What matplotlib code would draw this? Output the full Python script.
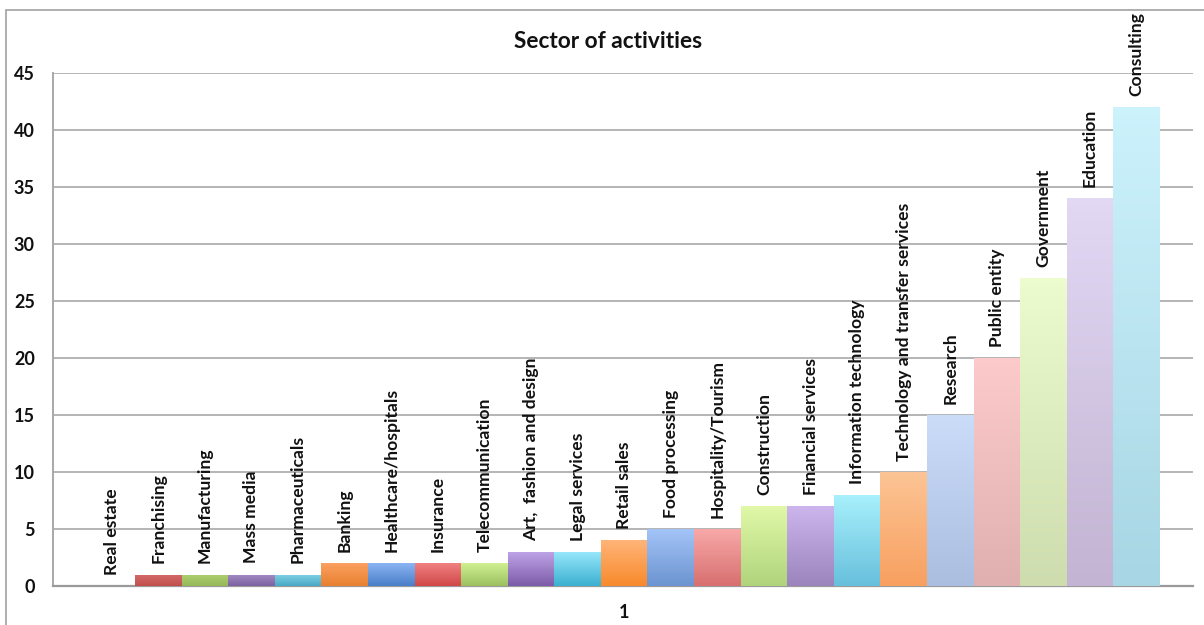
import numpy as np
import matplotlib
matplotlib.use("Agg")
import matplotlib.pyplot as plt
from matplotlib.colors import LinearSegmentedColormap
from matplotlib.patches import Rectangle

plt.rcParams['font.family'] = ['Lato', 'DejaVu Sans']

sectors = ["Real estate", "Franchising", "Manufacturing", "Mass media",
           "Pharmaceuticals", "Banking", "Healthcare/hospitals", "Insurance",
           "Telecommunication", "Art,  fashion and design", "Legal services",
           "Retail sales", "Food processing", "Hospitality/Tourism",
           "Construction", "Financial services", "Information technology",
           "Technology and transfer services", "Research", "Public entity",
           "Government", "Education", "Consulting"]
counts = [0, 1, 1, 1, 1, 2, 2, 2, 2, 3, 3, 4, 5, 5, 7, 7, 8, 10, 15, 20, 27, 34, 42]
group_label = "1"
y_ticks = [0, 5, 10, 15, 20, 25, 30, 35, 40, 45]

# gradient colours (top, bottom) per bar, Excel-style
top_colors = ["#8ab4f4", "#d46a6a", "#b0d070", "#a48cc4", "#80d0e4", "#fba060",
              "#8ab4f4", "#f08080", "#d0f090", "#c0a4e8", "#98e8fc", "#ffb478",
              "#a4c4f8", "#f8a8a8", "#e0f8a8", "#ccb4ec", "#a8f0fc", "#fcc494",
              "#cadcf8", "#fccaca", "#ecfcce", "#e2d8f4", "#ccf2fc"]
bottom_colors = ["#4a7ec8", "#c0504d", "#94b858", "#7c62a0", "#4aaac6", "#e88030",
                 "#4a7ec8", "#d04848", "#9cc060", "#7c5ca8", "#3cb0d0", "#f88a2c",
                 "#6c94d0", "#d87070", "#b0d47c", "#9c84bc", "#68c0dc", "#f8a060",
                 "#acbee0", "#e0b0b0", "#cedcae", "#c2b4d2", "#a8d6e4"]

W, H = 1204, 625
fig = plt.figure(figsize=(W / 100, H / 100), dpi=100)
ax = fig.add_axes([53 / W, 1 - 586 / H, (1193 - 53) / W, (586 - 73) / H])

x = np.arange(len(sectors))
bars = ax.bar(x, counts, width=1.0, color=bottom_colors, linewidth=0, zorder=2)

grad = np.linspace(0, 1, 64).reshape(-1, 1)
for i, (b, h) in enumerate(zip(bars, counts)):
    if h > 0:
        cmap = LinearSegmentedColormap.from_list("g", [top_colors[i], bottom_colors[i]])
        im = ax.imshow(grad, cmap=cmap, aspect="auto", zorder=3,
                       extent=(b.get_x(), b.get_x() + b.get_width(), 0, h),
                       origin="upper")
        im.set_clip_path(b)
    ax.annotate(sectors[i], (b.get_x() + b.get_width() / 2, h),
                xytext=(0, 8), textcoords="offset points", rotation=90,
                ha="center", va="bottom", fontsize=12.6, fontweight="bold",
                color="#111111", zorder=4)

ax.set_xlim(-0.5 - 0.76, len(sectors) - 0.5 + 0.71)
ax.set_ylim(0, 45)
ax.set_yticks(y_ticks)
ax.set_xticks([(len(sectors) - 1) / 2])
ax.set_xticklabels([group_label])
ax.tick_params(axis="both", length=0, labelsize=13)
ax.tick_params(axis="y", pad=13)
ax.tick_params(axis="x", pad=13)
for lab in ax.get_xticklabels() + ax.get_yticklabels():
    lab.set_fontweight("bold")
    lab.set_color("#111111")

ax.grid(axis="y", color="#b4b4b4", linewidth=1.4, zorder=0)
ax.set_axisbelow(True)
for s in ["top", "right"]:
    ax.spines[s].set_visible(False)
ax.spines["left"].set_color("#a8a8a8")
ax.spines["left"].set_linewidth(1.4)
ax.spines["bottom"].set_color("#9a9a9a")
ax.spines["bottom"].set_linewidth(1.6)

fig.text(608 / W, 1 - 42 / H, "Sector of activities", ha="center", va="center",
         fontsize=16.3, fontweight="bold", color="#111111")

fig.add_artist(Rectangle((6 / W, -0.1), 1.2, (H - 10) / H + 0.1,
                         transform=fig.transFigure, fill=False,
                         edgecolor="#a8a8a8", linewidth=1.3))

fig.savefig("out.png", dpi=100)
